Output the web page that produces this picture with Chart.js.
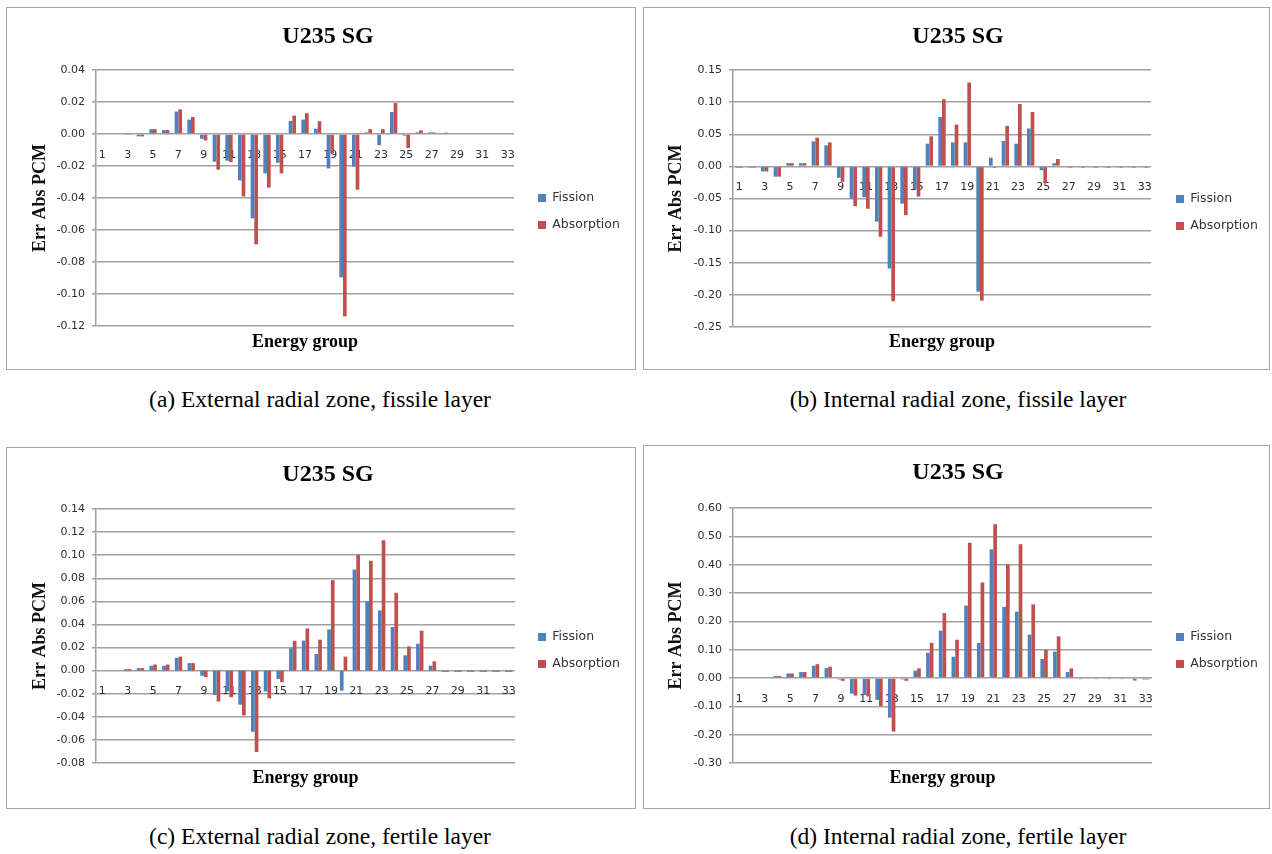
<!DOCTYPE html>
<html><head><meta charset="utf-8">
<script src="https://cdn.jsdelivr.net/npm/chart.js@4.4.1/dist/chart.umd.min.js"></script>
<style>
html,body{margin:0;padding:0;background:#fff;}
body{width:1272px;height:854px;position:relative;overflow:hidden;}
.panel{position:absolute;box-sizing:border-box;border:1px solid #a6a6a6;background:#fff;}
.panel canvas{position:absolute;left:0;top:0;}
.cap{position:absolute;font-family:'Liberation Serif','Times New Roman',serif;font-size:23.5px;color:#000;transform:translateX(-50%);white-space:nowrap;line-height:1;}
</style></head><body>
<div class="panel" id="pa" style="left:6px;top:7px;width:630px;height:363px"><canvas id="ca" width="628" height="361"></canvas></div>
<div class="panel" id="pb" style="left:643px;top:7px;width:627px;height:363px"><canvas id="cb" width="625" height="361"></canvas></div>
<div class="panel" id="pc" style="left:6px;top:447px;width:630px;height:362px"><canvas id="cc" width="628" height="360"></canvas></div>
<div class="panel" id="pd" style="left:643px;top:445px;width:627px;height:364px"><canvas id="cd" width="625" height="362"></canvas></div>
<div class="cap" style="left:320px;top:388px">(a) External radial zone, fissile layer</div>
<div class="cap" style="left:958px;top:388px">(b) Internal radial zone, fissile layer</div>
<div class="cap" style="left:320px;top:825px">(c) External radial zone, fertile layer</div>
<div class="cap" style="left:958px;top:825px">(d) Internal radial zone, fertile layer</div>
<script>
const groups = ['1','2','3','4','5','6','7','8','9','10','11','12','13','14','15','16','17','18','19','20','21','22','23','24','25','26','27','28','29','30','31','32','33'];
const seriesNames = ['Fission', 'Absorption'];
const chartTitle = 'U235 SG';
const xTitle = 'Energy group';
const yTitle = 'Err Abs PCM';

const fissionA = [0,0,-0.0003,-0.0015,0.003,0.0025,0.014,0.009,-0.003,-0.0173,-0.0167,-0.029,-0.0527,-0.0246,-0.018,0.0081,0.009,0.0033,-0.0215,-0.0896,-0.0204,0.001,-0.007,0.0138,-0.001,0.001,0.001,0,0,0,0,0,0];
const absorptionA = [0,0,-0.0003,-0.0015,0.003,0.0025,0.0154,0.0106,-0.004,-0.0223,-0.0175,-0.039,-0.069,-0.0335,-0.0246,0.0115,0.013,0.008,-0.012,-0.114,-0.0348,0.003,0.003,0.0194,-0.0088,0.0023,0.001,0.0008,0,0,0,0,0];
const yRangeA = [-0.12, 0.04, 0.02];

const fissionB = [-0.002,-0.002,-0.0078,-0.016,0.005,0.005,0.039,0.0327,-0.0177,-0.05,-0.048,-0.086,-0.159,-0.058,-0.035,0.0353,0.0769,0.0374,0.0374,-0.195,0.0135,0.0395,0.0353,0.059,-0.006,0.005,-0.001,-0.001,-0.001,-0.001,-0.001,-0.001,-0.001];
const absorptionB = [-0.002,-0.002,-0.008,-0.016,0.005,0.005,0.0447,0.0374,-0.024,-0.062,-0.066,-0.1096,-0.21,-0.076,-0.047,0.0468,0.1044,0.065,0.1304,-0.209,-0.002,0.063,0.097,0.0847,-0.026,0.0114,-0.002,-0.002,-0.002,-0.002,-0.002,-0.002,-0.002];
const yRangeB = [-0.25, 0.15, 0.05];

const fissionC = [0,0,0.0013,0.0022,0.0042,0.0042,0.011,0.0065,-0.0045,-0.021,-0.018,-0.0295,-0.053,-0.018,-0.0073,0.0195,0.026,0.0144,0.0357,-0.0173,0.0876,0.06,0.0522,0.0378,0.0133,0.0233,0.0043,-0.001,-0.001,-0.001,-0.001,-0.001,-0.001];
const absorptionC = [0,0,0.0013,0.0022,0.0053,0.0053,0.0122,0.0065,-0.0056,-0.0267,-0.023,-0.0388,-0.0705,-0.024,-0.01,0.0258,0.0366,0.0268,0.0784,0.0121,0.1003,0.0951,0.113,0.0674,0.021,0.0346,0.008,-0.001,-0.001,-0.001,-0.001,-0.001,-0.001];
const yRangeC = [-0.08, 0.14, 0.02];

const fissionD = [0,0,0,0.007,0.016,0.021,0.043,0.035,-0.005,-0.055,-0.06,-0.077,-0.14,-0.005,0.026,0.089,0.167,0.075,0.256,0.124,0.454,0.251,0.234,0.153,0.067,0.093,0.021,-0.004,-0.003,-0.003,-0.003,-0.003,-0.005];
const absorptionD = [0,0,0,0.007,0.016,0.021,0.049,0.04,-0.01,-0.062,-0.065,-0.099,-0.189,-0.01,0.034,0.124,0.229,0.135,0.477,0.337,0.543,0.401,0.472,0.26,0.099,0.147,0.034,-0.003,-0.004,-0.004,-0.004,-0.009,-0.005];
const yRangeD = [-0.30, 0.60, 0.10];

const BLUE = '#4F81BD', RED = '#C0504D';
const GRID = '#a0a0a0', TICK = '#2e2e2e';
const LEG_FONT = 12.5, LEG_PAD = 14.5;

function fmt(v){ if (Math.abs(v) < 1e-9) v = 0; return v.toFixed(2); }

function legendFix(cfg){
  return {
    id: 'legendFix',
    beforeLayout(chart){
      const lg = chart.legend;
      if (!lg || lg.__fixed) return;
      lg.__fixed = true;
      const fit = lg.fit;
      lg.fit = function(){ fit.call(this); this.width = cfg.legendW; };
      const draw = lg.draw;
      lg.draw = function(area){
        this.left = cfg.legX - LEG_PAD;
        this.top = cfg.legY - LEG_FONT/2 - LEG_PAD;
        draw.call(this, area);
      };
    }
  };
}

function makeChart(id, fis, abs, yr, cfg){
  new Chart(document.getElementById(id), {
    type: 'bar',
    data: {
      labels: groups,
      datasets: [
        {label: seriesNames[0], data: fis, backgroundColor: BLUE, borderWidth: 0, categoryPercentage: 0.58, barPercentage: 1},
        {label: seriesNames[1], data: abs, backgroundColor: RED, borderWidth: 0, categoryPercentage: 0.58, barPercentage: 1}
      ]
    },
    options: {
      responsive: false, animation: false, devicePixelRatio: 1,
      layout: {padding: {left: cfg.padLeft, right: 0, top: 0, bottom: 0}},
      scales: {
        x: {
          type: 'category', position: {y: 0},
          grid: {display: false, drawTicks: false},
          border: {display: false},
          ticks: {autoSkip: false, maxRotation: 0, minRotation: 0, padding: 14.4,
            font: {family: 'DejaVu Sans', size: 11}, color: TICK,
            callback: function(v, i){ return i % 2 === 0 ? this.getLabelForValue(v) : ''; }}
        },
        y: {
          min: yr[0], max: yr[1],
          ticks: {stepSize: yr[2], callback: v => fmt(v), font: {family: 'DejaVu Sans', size: 11}, color: TICK, padding: 7},
          grid: {color: GRID, lineWidth: 1.5, drawTicks: true, tickLength: 4, tickColor: GRID},
          border: {display: true, color: GRID, width: 1.5},
          title: {display: true, text: yTitle, font: {family: 'Liberation Serif', size: 18, weight: 'bold'}, color: '#111', padding: {top: cfg.yTitlePad, bottom: 0}},
          afterFit: s => { s.width = cfg.yWidth; }
        }
      },
      plugins: {
        title: {display: true, text: chartTitle, font: {family: 'Liberation Serif', size: 24, weight: 'bold'}, color: '#000', padding: {top: cfg.tTop, bottom: cfg.tBot}},
        subtitle: {display: true, text: xTitle, position: 'bottom', fullSize: false, font: {family: 'Liberation Serif', size: 18, weight: 'bold'}, color: '#000', padding: {top: cfg.sTop, bottom: cfg.sBot}},
        legend: {position: 'right', align: 'start',
          labels: {boxWidth: 8, boxHeight: 8, padding: LEG_PAD, color: '#333', font: {family: 'DejaVu Sans', size: LEG_FONT}}},
        tooltip: {enabled: false}
      }
    },
    plugins: [legendFix(cfg)]
  });
}

makeChart('ca', fissionA, absorptionA, yRangeA, {padLeft: 14, yWidth: 75, legendW: 121, yTitlePad: 8.2, tTop: 14.6, tBot: 18.6, sTop: 5.2, sBot: 16.2, legX: 531, legY: 190});
makeChart('cb', fissionB, absorptionB, yRangeB, {padLeft: 3, yWidth: 86, legendW: 118, yTitlePad: 18.2, tTop: 14.6, tBot: 18.6, sTop: 4.2, sBot: 16.2, legX: 532, legY: 191});
makeChart('cc', fissionC, absorptionC, yRangeC, {padLeft: 14, yWidth: 75, legendW: 120, yTitlePad: 8.2, tTop: 12.6, tBot: 19.6, sTop: 4.2, sBot: 19.2, legX: 531, legY: 189});
makeChart('cd', fissionD, absorptionD, yRangeD, {padLeft: 3, yWidth: 86, legendW: 117, yTitlePad: 18.2, tTop: 12.6, tBot: 20.6, sTop: 4.2, sBot: 19.2, legX: 532, legY: 191});
</script>
</body></html>
